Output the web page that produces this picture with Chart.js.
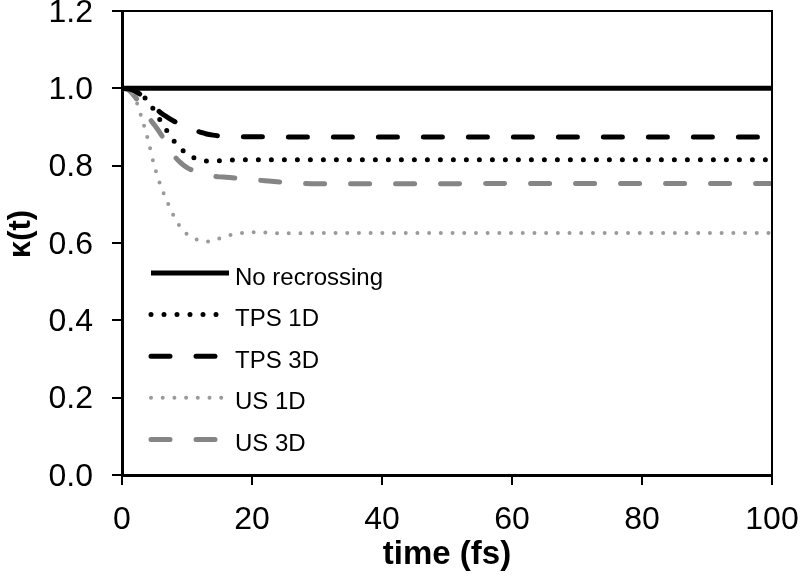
<!DOCTYPE html>
<html>
<head>
<meta charset="utf-8">
<script src="https://cdn.jsdelivr.net/npm/chart.js@4.4.1/dist/chart.umd.min.js"></script>
<style>
    html, body { margin: 0; padding: 0; background: #fff; }
    #wrap { width: 800px; height: 577px; }
</style>
</head>
<body>
<div id="wrap"><canvas id="kappaChart" width="800" height="577"></canvas></div>
<script>
// Data
const waktu = [0, 1, 2, 3, 4, 5, 6, 7, 8, 9, 10, 11, 12, 13, 14, 15, 16, 18, 20, 22, 25, 30, 40, 50, 60, 70, 80, 90, 100];
const noRecrossing = [1, 1, 1, 1, 1, 1, 1, 1, 1, 1, 1, 1, 1, 1, 1, 1, 1, 1, 1, 1, 1, 1, 1, 1, 1, 1, 1, 1, 1];
const tps1D = [1, 0.999, 0.994, 0.985, 0.965, 0.942, 0.914, 0.888, 0.864, 0.845, 0.831, 0.821, 0.815, 0.812, 0.812, 0.813, 0.814, 0.815, 0.815, 0.815, 0.815, 0.815, 0.815, 0.815, 0.815, 0.815, 0.815, 0.815, 0.815];
const tps3D = [1, 0.999, 0.993, 0.982, 0.967, 0.951, 0.936, 0.925, 0.915, 0.906, 0.898, 0.892, 0.887, 0.882, 0.879, 0.877, 0.876, 0.875, 0.875, 0.875, 0.874, 0.874, 0.874, 0.874, 0.874, 0.874, 0.874, 0.874, 0.874];
const us1D = [1, 0.997, 0.975, 0.925, 0.867, 0.798, 0.746, 0.705, 0.669, 0.641, 0.623, 0.613, 0.606, 0.604, 0.606, 0.612, 0.618, 0.625, 0.628, 0.627, 0.625, 0.626, 0.626, 0.626, 0.626, 0.626, 0.626, 0.626, 0.626];
const us3D = [1, 0.996, 0.978, 0.955, 0.927, 0.905, 0.881, 0.853, 0.826, 0.808, 0.795, 0.787, 0.781, 0.776, 0.773, 0.771, 0.770, 0.767, 0.764, 0.761, 0.757, 0.753, 0.753, 0.753, 0.754, 0.754, 0.754, 0.754, 0.754];

const xTicks = [0, 20, 40, 60, 80, 100];
const yTicks = [0, 0.2, 0.4, 0.6, 0.8, 1.0, 1.2];

const FONT = '"Liberation Sans", Arial, sans-serif';

// Helper: gabungkan waktu + nilai jadi titik {x, y}
function toPoints(values) {
    return waktu.map((t, i) => ({ x: t, y: values[i] }));
}

const datasets = [
    { label: 'No recrossing', data: toPoints(noRecrossing), borderColor: '#000', borderWidth: 5, borderDash: [] },
    { label: 'TPS 1D', data: toPoints(tps1D), borderColor: '#000', borderWidth: 5, borderDash: [0, 13], borderCapStyle: 'round' },
    { label: 'TPS 3D', data: toPoints(tps3D), borderColor: '#000', borderWidth: 5, borderDash: [19, 26], borderCapStyle: 'round' },
    { label: 'US 1D', data: toPoints(us1D), borderColor: '#9a9a9a', borderWidth: 4, borderDash: [0, 11.7], borderCapStyle: 'round' },
    { label: 'US 3D', data: toPoints(us3D), borderColor: '#858585', borderWidth: 5, borderDash: [19, 26], borderCapStyle: 'round' }
];

// Box on top and right of the plot area, plus the y title (sits a bit above centre)
const boxPlugin = {
    id: 'boxPlugin',
    afterDraw(chart) {
        const { ctx, chartArea: a } = chart;
        ctx.save();
        ctx.strokeStyle = '#000';
        ctx.lineWidth = 2;
        ctx.beginPath();
        ctx.moveTo(a.left, a.top);
        ctx.lineTo(a.right, a.top);
        ctx.lineTo(a.right, a.bottom);
        ctx.stroke();

        ctx.translate(21, 234);
        ctx.rotate(-Math.PI / 2);
        ctx.font = 'bold 31px ' + FONT;
        ctx.fillStyle = '#000';
        ctx.textAlign = 'center';
        ctx.textBaseline = 'middle';
        ctx.fillText('κ(t)', 0, 0);
        ctx.restore();
    }
};

// Legend inside the plot, lower left
const legendPlugin = {
    id: 'legendPlugin',
    afterDraw(chart) {
        const { ctx, chartArea: a } = chart;
        const x0 = a.left + 29;
        const len = 78;
        ctx.save();
        ctx.font = '24px ' + FONT;
        ctx.textBaseline = 'middle';
        ctx.fillStyle = '#000';
        chart.data.datasets.forEach((ds, i) => {
            const y = 273 + i * 41.6;
            ctx.strokeStyle = ds.borderColor;
            ctx.lineWidth = ds.borderWidth;
            ctx.lineCap = ds.borderCapStyle || 'butt';
            ctx.setLineDash(ds.borderDash || []);
            ctx.beginPath();
            ctx.moveTo(x0, y);
            ctx.lineTo(x0 + len, y);
            ctx.stroke();
            ctx.setLineDash([]);
            ctx.fillText(ds.label, x0 + len + 6, y + 5);
        });
        ctx.restore();
    }
};

const kappaChart = new Chart(document.getElementById('kappaChart'), {
    type: 'line',
    data: { datasets: datasets },
    options: {
        responsive: false,
        animation: false,
        layout: { padding: { top: 11, right: 28, bottom: 0, left: 0 } },
        elements: {
            point: { radius: 0 },
            line: { cubicInterpolationMode: 'monotone', fill: false }
        },
        plugins: {
            legend: { display: false },
            tooltip: { enabled: false }
        },
        scales: {
            x: {
                type: 'linear',
                min: 0,
                max: 100,
                afterBuildTicks: s => { s.ticks = xTicks.map(v => ({ value: v })); },
                afterFit: s => { s.height = 102; s.paddingLeft = 0; s.paddingRight = 0; },
                grid: { drawOnChartArea: false, drawTicks: true, tickLength: 10, color: '#000', lineWidth: 2 },
                border: { display: true, color: '#000', width: 3 },
                ticks: { color: '#000', font: { family: FONT, size: 32 }, padding: 16, maxRotation: 0 },
                title: { display: true, text: 'time (fs)', color: '#000', font: { family: FONT, size: 33, weight: 'bold' }, padding: { top: 0, bottom: 2 } }
            },
            y: {
                type: 'linear',
                min: 0,
                max: 1.2,
                afterBuildTicks: s => { s.ticks = yTicks.map(v => ({ value: v })); },
                afterFit: s => { s.width = 122; s.paddingTop = 0; s.paddingBottom = 0; },
                grid: { drawOnChartArea: false, drawTicks: true, tickLength: 10, color: '#000', lineWidth: 2 },
                border: { display: true, color: '#000', width: 3 },
                ticks: { color: '#000', font: { family: FONT, size: 32 }, padding: 19, labelOffset: 2, callback: v => v.toFixed(1) },
                title: { display: false }
            }
        }
    },
    plugins: [boxPlugin, legendPlugin]
});
</script>
</body>
</html>
